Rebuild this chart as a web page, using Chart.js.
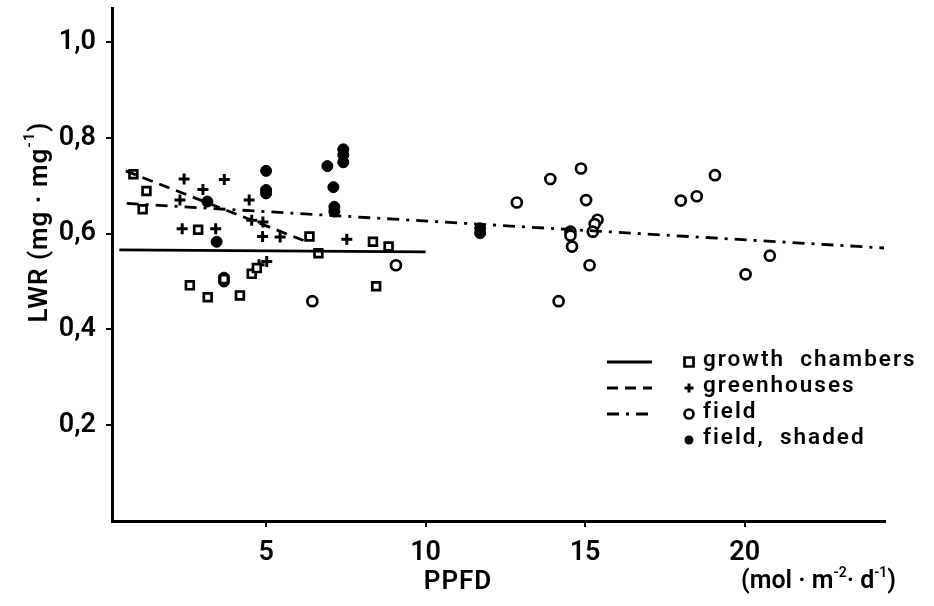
<!DOCTYPE html>
<html lang="en">
<head>
    <meta charset="UTF-8">
    <title>LWR vs PPFD</title>
    <script src="https://cdn.jsdelivr.net/npm/chart.js"></script>
    <style>
        html, body { margin: 0; padding: 0; background: #fff; }
        .chart-box { width: 934px; height: 606px; position: relative; }
    </style>
</head>
<body>
    <div class="chart-box">
        <canvas id="lwrChart"></canvas>
    </div>

    <script>
        // values
        const xTicks = [5, 10, 15, 20];
        const yTicks = [0.2, 0.4, 0.6, 0.8, 1.0];

        const chamberX = [0.84, 1.25, 1.13, 2.87, 2.61, 3.17, 4.18, 4.55, 4.71, 6.36, 6.64, 8.35, 8.84, 8.45, 3.68];
        const chamberY = [0.724, 0.689, 0.651, 0.608, 0.492, 0.467, 0.471, 0.516, 0.528, 0.594, 0.559, 0.583, 0.573, 0.490, 0.505];

        const greenhouseX = [2.43, 3.69, 3.02, 2.30, 4.47, 2.37, 3.42, 4.55, 4.90, 4.89, 5.44, 7.53, 4.78, 5.02];
        const greenhouseY = [0.714, 0.713, 0.692, 0.670, 0.670, 0.610, 0.610, 0.628, 0.624, 0.594, 0.593, 0.588, 0.535, 0.542];

        const fieldX = [6.45, 9.07, 12.86, 13.91, 14.87, 15.03, 15.39, 15.30, 15.24, 14.54, 14.54, 14.59, 15.14, 14.17, 18.0, 18.5, 19.07, 20.79, 20.03];
        const fieldY = [0.459, 0.534, 0.665, 0.714, 0.736, 0.670, 0.629, 0.620, 0.604, 0.604, 0.596, 0.573, 0.534, 0.459, 0.669, 0.678, 0.722, 0.554, 0.515];

        const shadedX = [5.0, 5.0, 5.0, 6.92, 7.42, 7.42, 7.42, 7.11, 7.14, 7.14, 3.16, 3.45, 3.68, 3.68, 11.71, 11.71];
        const shadedY = [0.731, 0.691, 0.684, 0.741, 0.776, 0.764, 0.749, 0.697, 0.656, 0.646, 0.667, 0.583, 0.500, 0.508, 0.611, 0.601];

        // fitted lines (end points)
        const chamberLineX = [0.4, 10.0];
        const chamberLineY = [0.566, 0.562];
        const greenhouseLineX = [0.6, 6.2];
        const greenhouseLineY = [0.731, 0.585];
        const fieldLineX = [0.63, 24.37];
        const fieldLineY = [0.663, 0.570];

        const legendLabels = ['growth  chambers', 'greenhouses', 'field', 'field,  shaded'];

        const FONT = "Roboto, 'DejaVu Sans', sans-serif";
        const INK = '#000';

        function pts(xs, ys) {
            return xs.map((x, i) => ({ x: x, y: ys[i] }));
        }

        const markerStyles = [
            { pointStyle: 'rect', radius: 5.5, fill: false, width: 2.7 },
            { pointStyle: 'cross', radius: 5.5, fill: false, width: 3 },
            { pointStyle: 'circle', radius: 5, fill: false, width: 2.7 },
            { pointStyle: 'circle', radius: 5.5, fill: true, width: 1 }
        ];
        const lineDashes = [[], [11, 7], [12, 7, 3, 7]];

        function scatterSet(label, xs, ys, m) {
            return {
                type: 'scatter',
                label: label,
                data: pts(xs, ys),
                pointStyle: m.pointStyle,
                pointRadius: m.radius,
                pointHoverRadius: m.radius,
                pointBorderWidth: m.width,
                pointBorderColor: INK,
                pointBackgroundColor: m.fill ? INK : '#fff',
                showLine: false
            };
        }

        function lineSet(xs, ys, dash) {
            return {
                type: 'line',
                data: pts(xs, ys),
                borderColor: INK,
                borderWidth: 2.8,
                borderDash: dash,
                pointRadius: 0,
                fill: false,
                tension: 0
            };
        }

        // writes runs of text with superscripts, left to right
        function drawRuns(ctx, runs, x, y) {
            runs.forEach(p => {
                ctx.font = '600 ' + p[1] + 'px ' + FONT;
                ctx.fillText(p[0], x, y + p[2]);
                x += ctx.measureText(p[0]).width;
            });
        }

        function runsWidth(ctx, runs) {
            let w = 0;
            runs.forEach(p => { ctx.font = '600 ' + p[1] + 'px ' + FONT; w += ctx.measureText(p[0]).width; });
            return w;
        }

        // legend + axis titles drawn straight on the canvas
        const paperPlugin = {
            id: 'paper',
            afterDraw(chart) {
                const ctx = chart.ctx;
                ctx.save();
                ctx.fillStyle = INK;
                ctx.strokeStyle = INK;
                ctx.textBaseline = 'middle';
                ctx.textAlign = 'left';

                // y title
                ctx.save();
                ctx.translate(40, 222);
                ctx.rotate(-Math.PI / 2);
                if ('letterSpacing' in ctx) ctx.letterSpacing = '1px';
                const yRuns = [['LWR (mg \u00b7 mg', 26, 0], ['-1', 15, -10], [')', 26, 0]];
                drawRuns(ctx, yRuns, -runsWidth(ctx, yRuns) / 2, 0);
                ctx.restore();

                // x title
                if ('letterSpacing' in ctx) ctx.letterSpacing = '1px';
                ctx.font = '600 26px ' + FONT;
                ctx.textAlign = 'center';
                ctx.fillText('PPFD', 458, 582);
                ctx.textAlign = 'left';
                if ('letterSpacing' in ctx) ctx.letterSpacing = '0px';
                drawRuns(ctx, [['(mol \u00b7 m', 25, 0], ['-2', 14, -9], ['\u00b7 d', 25, 0], ['-1', 14, -9], [')', 25, 0]], 741, 582);

                // legend
                const rowsY = [362, 388, 414, 440];
                ctx.font = '600 22.5px ' + FONT;
                if ('letterSpacing' in ctx) ctx.letterSpacing = '2px';
                legendLabels.forEach((lab, i) => {
                    const y = rowsY[i];
                    if (i < 3) {
                        ctx.save();
                        ctx.lineWidth = 2.8;
                        ctx.setLineDash(lineDashes[i]);
                        ctx.beginPath();
                        ctx.moveTo(607, y);
                        ctx.lineTo(652, y);
                        ctx.stroke();
                        ctx.restore();
                    }
                    const m = markerStyles[i];
                    const mx = 689;
                    ctx.save();
                    ctx.lineWidth = m.width;
                    ctx.beginPath();
                    if (m.pointStyle === 'rect') {
                        ctx.rect(mx - 4.5, y - 4.5, 9, 9);
                        ctx.stroke();
                    } else if (m.pointStyle === 'cross') {
                        ctx.moveTo(mx - 4.5, y); ctx.lineTo(mx + 4.5, y);
                        ctx.moveTo(mx, y - 4.5); ctx.lineTo(mx, y + 4.5);
                        ctx.stroke();
                    } else {
                        ctx.arc(mx, y, 4.5, 0, Math.PI * 2);
                        if (m.fill) ctx.fill(); else ctx.stroke();
                    }
                    ctx.restore();
                    ctx.fillText(lab, 703, y - 2);
                });
                ctx.restore();
            }
        };

        const ctx = document.getElementById('lwrChart').getContext('2d');
        new Chart(ctx, {
            data: {
                datasets: [
                    lineSet(chamberLineX, chamberLineY, lineDashes[0]),
                    lineSet(greenhouseLineX, greenhouseLineY, lineDashes[1]),
                    lineSet(fieldLineX, fieldLineY, lineDashes[2]),
                    scatterSet('growth chambers', chamberX, chamberY, markerStyles[0]),
                    scatterSet('greenhouses', greenhouseX, greenhouseY, markerStyles[1]),
                    scatterSet('field', fieldX, fieldY, markerStyles[2]),
                    scatterSet('field, shaded', shadedX, shadedY, markerStyles[3])
                ]
            },
            options: {
                responsive: true,
                maintainAspectRatio: false,
                animation: false,
                layout: { padding: { left: 0, top: 8, right: 49, bottom: 0 } },
                plugins: {
                    legend: { display: false },
                    tooltip: { enabled: false }
                },
                scales: {
                    x: {
                        type: 'linear',
                        min: 0.17,
                        max: 24.4,
                        afterBuildTicks: axis => { axis.ticks = xTicks.map(v => ({ value: v })); },
                        afterFit: axis => { axis.height = 85; axis.paddingLeft = 0; axis.paddingRight = 0; },
                        border: { display: true, color: INK, width: 3 },
                        grid: { drawOnChartArea: false, drawTicks: true, tickLength: 6, color: INK, lineWidth: 2 },
                        ticks: {
                            color: INK,
                            padding: 10,
                            font: { family: FONT, size: 27, weight: '600' },
                            maxRotation: 0,
                            callback: v => String(v)
                        }
                    },
                    y: {
                        type: 'linear',
                        min: 0,
                        max: 1.07,
                        afterBuildTicks: axis => { axis.ticks = yTicks.map(v => ({ value: v })); },
                        afterFit: axis => { axis.width = 112; axis.paddingTop = 0; axis.paddingBottom = 0; },
                        border: { display: true, color: INK, width: 3 },
                        grid: { drawOnChartArea: false, drawTicks: true, tickLength: 6, color: INK, lineWidth: 2 },
                        ticks: {
                            color: INK,
                            padding: 10,
                            font: { family: FONT, size: 27, weight: '600' },
                            callback: v => v.toFixed(1).replace('.', ',')
                        }
                    }
                }
            },
            plugins: [paperPlugin]
        });
    </script>
</body>
</html>
